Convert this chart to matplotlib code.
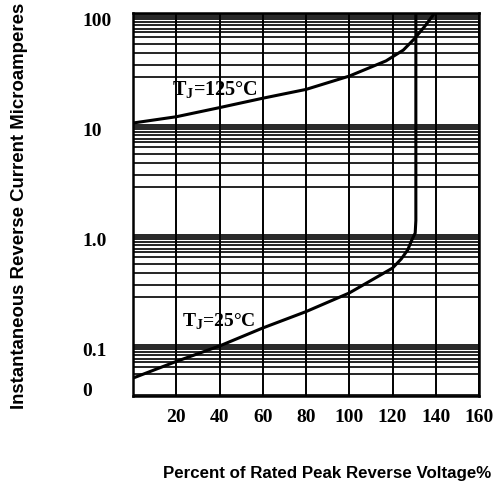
import matplotlib
matplotlib.use("Agg")
import matplotlib.pyplot as plt
import matplotlib.ticker as mticker
import numpy as np

# curve data (percent of rated voltage, microamperes)
pct_125 = [0, 20, 40, 60, 80, 100, 117, 125, 130, 135, 139.5]
cur_125 = [10.0, 11.4, 13.8, 16.8, 20.2, 26.7, 36.7, 46.0, 58.0, 76.0, 100.0]

pct_25 = [0, 20, 40, 60, 80, 100, 120, 124, 127, 129, 130.5, 130.8, 130.8]
cur_25 = [0.048, 0.068, 0.094, 0.137, 0.193, 0.285, 0.48, 0.58, 0.70, 0.87, 1.0, 1.3, 100.0]

x_ticks = [20, 40, 60, 80, 100, 120, 140, 160]
y_ticks = [0.043, 0.1, 1.0, 10.0, 100.0]
y_ticklabels = ["0", "0.1", "1.0", "10", "100"]
grid_subs = [1.0, 2.6, 3.4, 4.3, 5.2, 6.0, 6.7, 7.2, 7.8, 8.3, 8.8, 9.2, 9.6]

serif = ["Liberation Serif", "DejaVu Serif"]
sans = ["Liberation Sans", "DejaVu Sans"]

fig = plt.figure(figsize=(5.01, 4.86), dpi=100)
ax = fig.add_axes([133 / 501, 1 - 396 / 486, (479 - 133) / 501, (396 - 13) / 486])

ax.set_yscale("log")
ax.set_xlim(0, 160)
ax.set_ylim(0.033, 100)

# horizontal grid from minor log ticks, vertical grid from the major x ticks
ax.yaxis.set_minor_locator(mticker.LogLocator(base=10, subs=grid_subs, numticks=50))
ax.yaxis.set_minor_formatter(mticker.NullFormatter())
ax.grid(True, which="minor", axis="y", color="black", linewidth=1.2)
ax.set_xticks(x_ticks)
ax.grid(True, which="major", axis="x", color="black", linewidth=1.4)

ax.set_yticks(y_ticks)
ax.set_yticklabels(y_ticklabels)
ax.tick_params(axis="both", which="both", length=0)
ax.tick_params(axis="y", pad=36.5)
ax.tick_params(axis="x", pad=9)
for lab in ax.get_yticklabels():
    lab.set_horizontalalignment("left")
    lab.set_verticalalignment("top")
    lab.set_fontfamily(serif)
    lab.set_fontweight("bold")
    lab.set_fontsize(14)
for lab in ax.get_xticklabels():
    lab.set_fontfamily(serif)
    lab.set_fontweight("bold")
    lab.set_fontsize(14)

for sp in ax.spines.values():
    sp.set_linewidth(1.8)
    sp.set_color("black")

ax.plot(pct_125, cur_125, color="black", linewidth=2.2, zorder=5)
ax.plot(pct_25, cur_25, color="black", linewidth=2.2, zorder=5)

ax.text(18.0, 20, r"T$_\mathregular{J}$=125°C", fontfamily=serif, fontweight="bold",
        fontsize=14.5, ha="left", va="center", zorder=6)
ax.text(22.5, 0.155, r"T$_\mathregular{J}$=25°C", fontfamily=serif, fontweight="bold",
        fontsize=14, ha="left", va="center", zorder=6)

fig.text(20 / 501, 1 - 206 / 486, "Instantaneous Reverse Current Microamperes",
         rotation=90, ha="center", va="center", fontfamily=sans, fontweight="bold",
         fontsize=13.4)
fig.text(327 / 501, 1 - 473 / 486, "Percent of Rated Peak Reverse Voltage%",
         ha="center", va="center", fontfamily=sans, fontweight="bold", fontsize=12.2)

fig.savefig("out.png", dpi=100)
